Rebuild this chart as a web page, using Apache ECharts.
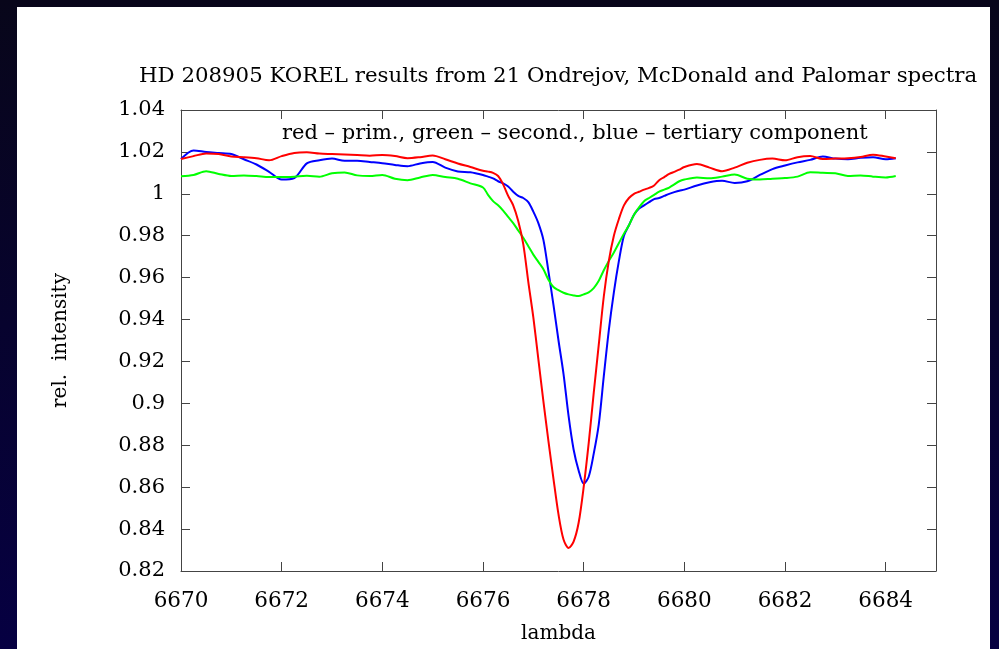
<!DOCTYPE html>
<html>
<head>
<meta charset="utf-8">
<script src="https://cdn.jsdelivr.net/npm/echarts@6/dist/echarts.min.js"></script>
<style>
html,body{margin:0;padding:0;background:#06052a;}
#chart{width:999px;height:649px;}
</style>
</head>
<body>
<div id="chart"></div>
<script>
// Wavelength grid (Angstrom)
var lambda = [
  6670.0,6670.25,6670.5,6670.75,6671.0,6671.25,6671.5,6671.75,6672.0,6672.25,6672.5,6672.75,
  6673.0,6673.25,6673.5,6673.75,6674.0,6674.25,6674.5,6674.75,6675.0,6675.25,6675.5,6675.75,
  6676.0,6676.1,6676.2,6676.3,6676.4,6676.5,6676.6,6676.7,6676.8,6676.9,
  6677.0,6677.1,6677.2,6677.3,6677.4,6677.5,6677.6,6677.7,6677.8,6677.9,
  6678.0,6678.1,6678.2,6678.3,6678.4,6678.5,6678.6,6678.7,6678.8,6678.9,
  6679.0,6679.1,6679.2,6679.3,6679.4,6679.5,6679.6,6679.7,6679.8,6679.9,
  6680.0,6680.25,6680.5,6680.75,6681.0,6681.25,6681.5,6681.75,6682.0,6682.25,6682.5,6682.75,
  6683.0,6683.25,6683.5,6683.75,6684.0,6684.2
];
// red - primary component
var primary = [
  1.0166,1.0180,1.0193,1.0190,1.0178,1.0175,1.0170,1.0160,1.0180,1.0195,1.0198,1.0192,
  1.0190,1.0188,1.0185,1.0182,1.0185,1.0180,1.0170,1.0175,1.0183,1.0165,1.0145,1.0128,
  1.0110,1.0106,1.0100,1.0085,1.0045,0.9990,0.9945,0.9870,0.9760,0.9580,
  0.9410,0.9210,0.9010,0.8820,0.8640,0.8470,0.8350,0.8310,0.8340,0.8430,
  0.8600,0.8810,0.9050,0.9280,0.9510,0.9680,0.9800,0.9880,0.9945,0.9980,
  1.0000,1.0010,1.0020,1.0028,1.0040,1.0065,1.0080,1.0095,1.0105,1.0115,
  1.0128,1.0142,1.0125,1.0108,1.0125,1.0148,1.0162,1.0168,1.0160,1.0175,1.0180,1.0166,
  1.0168,1.0170,1.0176,1.0187,1.0178,1.0170
];
// green - secondary component
var secondary = [
  1.0084,1.0090,1.0108,1.0095,1.0085,1.0088,1.0085,1.0080,1.0080,1.0082,1.0086,1.0082,
  1.0098,1.0102,1.0088,1.0085,1.0090,1.0072,1.0065,1.0078,1.0090,1.0080,1.0072,1.0050,
  1.0030,0.9995,0.9965,0.9945,0.9920,0.9890,0.9860,0.9825,0.9790,0.9750,
  0.9710,0.9675,0.9640,0.9590,0.9555,0.9540,0.9528,0.9520,0.9515,0.9512,
  0.9520,0.9530,0.9550,0.9585,0.9635,0.9680,0.9720,0.9765,0.9810,0.9850,
  0.9900,0.9935,0.9965,0.9980,0.9995,1.0010,1.0020,1.0030,1.0045,1.0060,
  1.0068,1.0078,1.0074,1.0082,1.0092,1.0072,1.0068,1.0072,1.0075,1.0082,1.0103,1.0100,
  1.0098,1.0085,1.0088,1.0082,1.0078,1.0085
];
// blue - tertiary component
var tertiary = [
  1.0166,1.0207,1.0200,1.0195,1.0190,1.0165,1.0140,1.0105,1.0068,1.0075,1.0145,1.0160,
  1.0168,1.0158,1.0158,1.0152,1.0146,1.0138,1.0132,1.0145,1.0152,1.0125,1.0107,1.0103,
  1.0090,1.0082,1.0074,1.0060,1.0050,1.0035,1.0010,0.9990,0.9980,0.9960,
  0.9915,0.9860,0.9780,0.9630,0.9470,0.9300,0.9140,0.8940,0.8780,0.8680,
  0.8617,0.8650,0.8760,0.8900,0.9130,0.9350,0.9530,0.9680,0.9800,0.9850,
  0.9900,0.9930,0.9945,0.9960,0.9975,0.9980,0.9990,1.0000,1.0008,1.0015,
  1.0020,1.0040,1.0055,1.0062,1.0052,1.0060,1.0090,1.0118,1.0135,1.0150,1.0162,1.0178,
  1.0168,1.0165,1.0172,1.0175,1.0165,1.0170
];
var titleText = 'HD 208905 KOREL results from 21 Ondrejov, McDonald and Palomar spectra';
var keyText = 'red \u2013 prim., green \u2013 second., blue \u2013 tertiary component';
var xName = 'lambda';
var yName = 'rel.  intensity';

function pairs(ys){ return lambda.map(function(x,i){ return [x, ys[i]]; }); }

var chart = echarts.init(document.getElementById('chart'), null, {renderer:'canvas'});
var serif = 'DejaVu Serif';
var axisLineStyle = {color:'#444', width:1};
var option = {
  backgroundColor: {
    type:'linear', x:0, y:0, x2:0, y2:1,
    colorStops:[{offset:0,color:'#08061a'},{offset:1,color:'#060042'}]
  },
  animation:false,
  graphic:[{
    type:'rect', z:-10, silent:true,
    shape:{x:17, y:7, width:973, height:650},
    style:{fill:'#ffffff'}
  }],
  title:[{
    text:titleText, left:139, top:66, padding:0,
    textStyle:{fontFamily:serif, fontSize:21.3, fontWeight:'normal', color:'#000'}
  },{
    text:keyText, left:282, top:123, padding:0,
    textStyle:{fontFamily:serif, fontSize:21, fontWeight:'normal', color:'#000'}
  }],
  grid:{left:181, top:110, width:755, height:464, containLabel:false},
  xAxis:[{
    type:'value', min:6670, max:6685, interval:2, position:'bottom',
    name:xName, nameLocation:'middle', nameGap:53,
    nameTextStyle:{fontFamily:serif, fontSize:20, color:'#000'},
    axisLine:{show:true, lineStyle:axisLineStyle},
    axisTick:{show:true, inside:true, length:9, lineStyle:axisLineStyle},
    axisLabel:{fontFamily:serif, fontSize:21.5, color:'#000', margin:19, showMaxLabel:false,
      formatter:function(v){ return String(Math.round(v)); }},
    splitLine:{show:false}
  },{
    type:'value', min:6670, max:6685, interval:2, position:'top',
    axisLine:{show:true, lineStyle:axisLineStyle},
    axisTick:{show:true, inside:true, length:9, lineStyle:axisLineStyle},
    axisLabel:{show:false}, splitLine:{show:false}
  }],
  yAxis:[{
    type:'value', min:0.82, max:1.04, interval:0.02, position:'left',
    name:yName, nameLocation:'middle', nameGap:110, nameRotate:90,
    nameTextStyle:{fontFamily:serif, fontSize:20, color:'#000'},
    axisLine:{show:true, lineStyle:axisLineStyle},
    axisTick:{show:true, inside:true, length:9, lineStyle:axisLineStyle},
    axisLabel:{fontFamily:serif, fontSize:21, color:'#000', margin:16,
      formatter:function(v){ return String(parseFloat(v.toFixed(2))); }},
    splitLine:{show:false}
  },{
    type:'value', min:0.82, max:1.04, interval:0.02, position:'right',
    axisLine:{show:true, lineStyle:axisLineStyle},
    axisTick:{show:true, inside:true, length:9, lineStyle:axisLineStyle},
    axisLabel:{show:false}, splitLine:{show:false}
  }],
  series:[
    {name:'tertiary', type:'line', data:pairs(tertiary), showSymbol:false, smooth:0.3,
      lineStyle:{color:'#0000ff', width:2}, itemStyle:{color:'#0000ff'}, z:2},
    {name:'secondary', type:'line', data:pairs(secondary), showSymbol:false, smooth:0.3,
      lineStyle:{color:'#00ff00', width:2}, itemStyle:{color:'#00ff00'}, z:3},
    {name:'primary', type:'line', data:pairs(primary), showSymbol:false, smooth:0.3,
      lineStyle:{color:'#ff0000', width:2}, itemStyle:{color:'#ff0000'}, z:4}
  ]
};
chart.setOption(option);
</script>
</body>
</html>
